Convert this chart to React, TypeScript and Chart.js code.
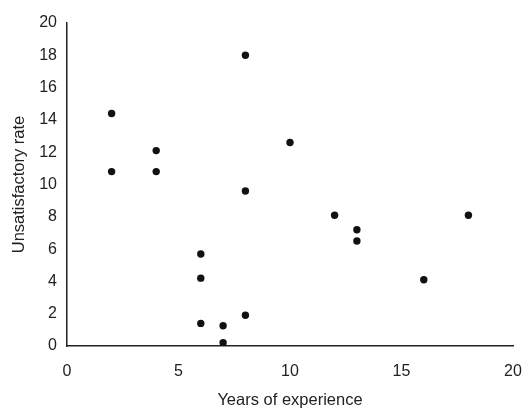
import React, { useEffect, useRef } from "react";
import { Chart, registerables } from "chart.js";

Chart.register(...registerables);

const yearsOfExperience = [2, 2, 4, 4, 8, 8, 10, 6, 6, 6, 7, 7, 8, 12, 13, 13, 16, 18];
const unsatisfactoryRate = [14.4, 10.8, 12.1, 10.8, 18.0, 9.6, 12.6, 5.7, 4.2, 1.4, 1.25, 0.2, 1.9, 8.1, 7.2, 6.5, 4.1, 8.1];
const xTickValues = [0, 5, 10, 15, 20];
const yTickValues = [0, 2, 4, 6, 8, 10, 12, 14, 16, 18, 20];

const FONT = "'Liberation Sans', Arial, Helvetica, sans-serif";

export default function App() {
  const ref = useRef<HTMLCanvasElement | null>(null);

  useEffect(() => {
    if (!ref.current) return;
    const points = yearsOfExperience.map((x, i) => ({ x, y: unsatisfactoryRate[i] }));
    const chart = new Chart(ref.current, {
      type: "scatter",
      data: {
        datasets: [
          {
            data: points,
            backgroundColor: "#111111",
            borderWidth: 0,
            pointRadius: 3.7,
            pointHoverRadius: 3.7,
          },
        ],
      },
      options: {
        animation: false,
        responsive: false,
        events: [],
        layout: { padding: { top: 23, right: 12, left: 0, bottom: 0 } },
        plugins: { legend: { display: false }, tooltip: { enabled: false } },
        scales: {
          x: {
            type: "linear",
            min: 0,
            max: 20,
            afterBuildTicks: (scale: any) => {
              scale.ticks = xTickValues.map((v) => ({ value: v }));
            },
            afterFit: (scale: any) => {
              scale.height = 63;
              scale.paddingLeft = 0;
              scale.paddingRight = 0;
            },
            grid: { display: false, drawTicks: false },
            border: { display: true, color: "#222222", width: 1.5 },
            ticks: {
              padding: 16,
              color: "#222222",
              font: { family: FONT, size: 16 },
              maxRotation: 0,
            },
            title: {
              display: true,
              text: "Years of experience",
              color: "#222222",
              font: { family: FONT, size: 16.5, lineHeight: 1 },
              padding: { top: 0, bottom: 0 },
            },
          },
          y: {
            type: "linear",
            min: 0,
            max: 20,
            afterBuildTicks: (scale: any) => {
              scale.ticks = yTickValues.map((v) => ({ value: v }));
            },
            afterFit: (scale: any) => {
              scale.width = 67;
              scale.paddingTop = 0;
              scale.paddingBottom = 0;
            },
            grid: { display: false, drawTicks: false },
            border: { display: true, color: "#222222", width: 1.5 },
            ticks: {
              padding: 10,
              color: "#222222",
              font: { family: FONT, size: 16 },
            },
            title: {
              display: true,
              text: "Unsatisfactory rate",
              color: "#222222",
              font: { family: FONT, size: 16.5, lineHeight: 1 },
              padding: { top: 11, bottom: 0 },
            },
          },
        },
      },
    });
    return () => chart.destroy();
  }, []);

  return (
    <div style={{ position: "fixed", left: 0, top: 0, width: 525, height: 409, background: "#ffffff" }}>
      <canvas ref={ref} width={525} height={409} style={{ display: "block", width: 525, height: 409 }} />
    </div>
  );
}
